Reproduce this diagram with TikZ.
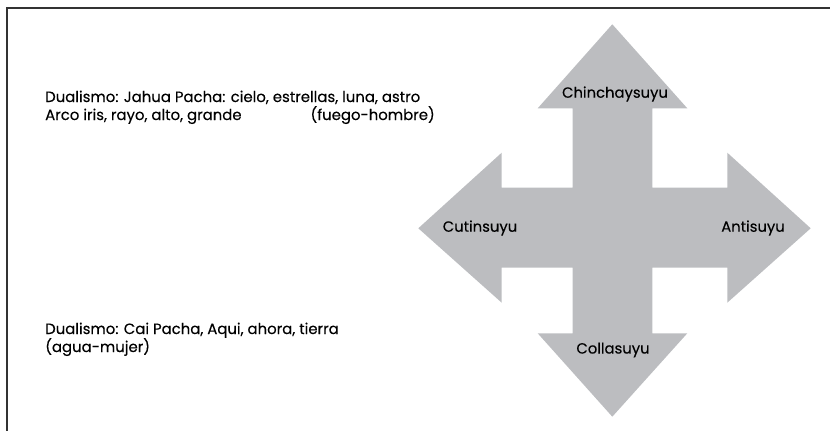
\documentclass[tikz,border=0pt]{standalone}
\usepackage{fontspec}
\setmainfont{Poppins}[FakeBold=0.2]
\begin{document}
\begin{tikzpicture}[x=1pt,y=-1pt,
  txt/.style={inner sep=0pt,font=\fontsize{14.9}{18}\selectfont,text=black},
  lbl/.style={inner sep=0pt,font=\fontsize{14.8}{15}\selectfont,text=black}]
\useasboundingbox (0,0) rectangle (830,431);
% frame (open at right and bottom)
\draw[line width=1.6pt,draw=black!80] (7,431) -- (7,8) -- (830,8);
% cross of four arrows
\fill[fill={rgb,255:red,188;green,189;blue,192}]
  (612.3,24.3) -- (687.3,108.3) -- (652.3,108.3) -- (652.3,187.7)
  -- (727.3,187.7) -- (727.3,152.7) -- (810.7,228.3) -- (727.3,302.7)
  -- (727.3,267.7) -- (652.3,267.7) -- (652.3,333.3) -- (687.3,333.3)
  -- (612.3,416.7) -- (537.7,333.3) -- (572.7,333.3) -- (572.7,267.7)
  -- (501.7,267.7) -- (501.7,302.7) -- (418.3,228.3) -- (501.7,152.7)
  -- (501.7,187.7) -- (572.7,187.7) -- (572.7,108.3) -- (537.7,108.3) -- cycle;
\node[lbl] (n) at (615,94) {Chinchaysuyu};
\node[lbl] (w) at (480,228) {Cutinsuyu};
\node[lbl] (e) at (753,228) {Antisuyu};
\node[lbl] (s) at (613,350) {Collasuyu};
% texts
\node[txt,anchor=base west] (t1) at (45,102) {Dualismo: Jahua Pacha: cielo, estrellas, luna, astro};
\node[txt,anchor=base west] (t2) at (45,120) {Arco iris, rayo, alto, grande};
\node[txt,anchor=base east] (t2b) at (435,120) {(fuego-hombre)};
\node[txt,anchor=base west] (t3) at (45,334) {Dualismo: Cai Pacha, Aqui, ahora, tierra};
\node[txt,anchor=base west] (t4) at (45,352) {(agua-mujer)};
\end{tikzpicture}
\end{document}
